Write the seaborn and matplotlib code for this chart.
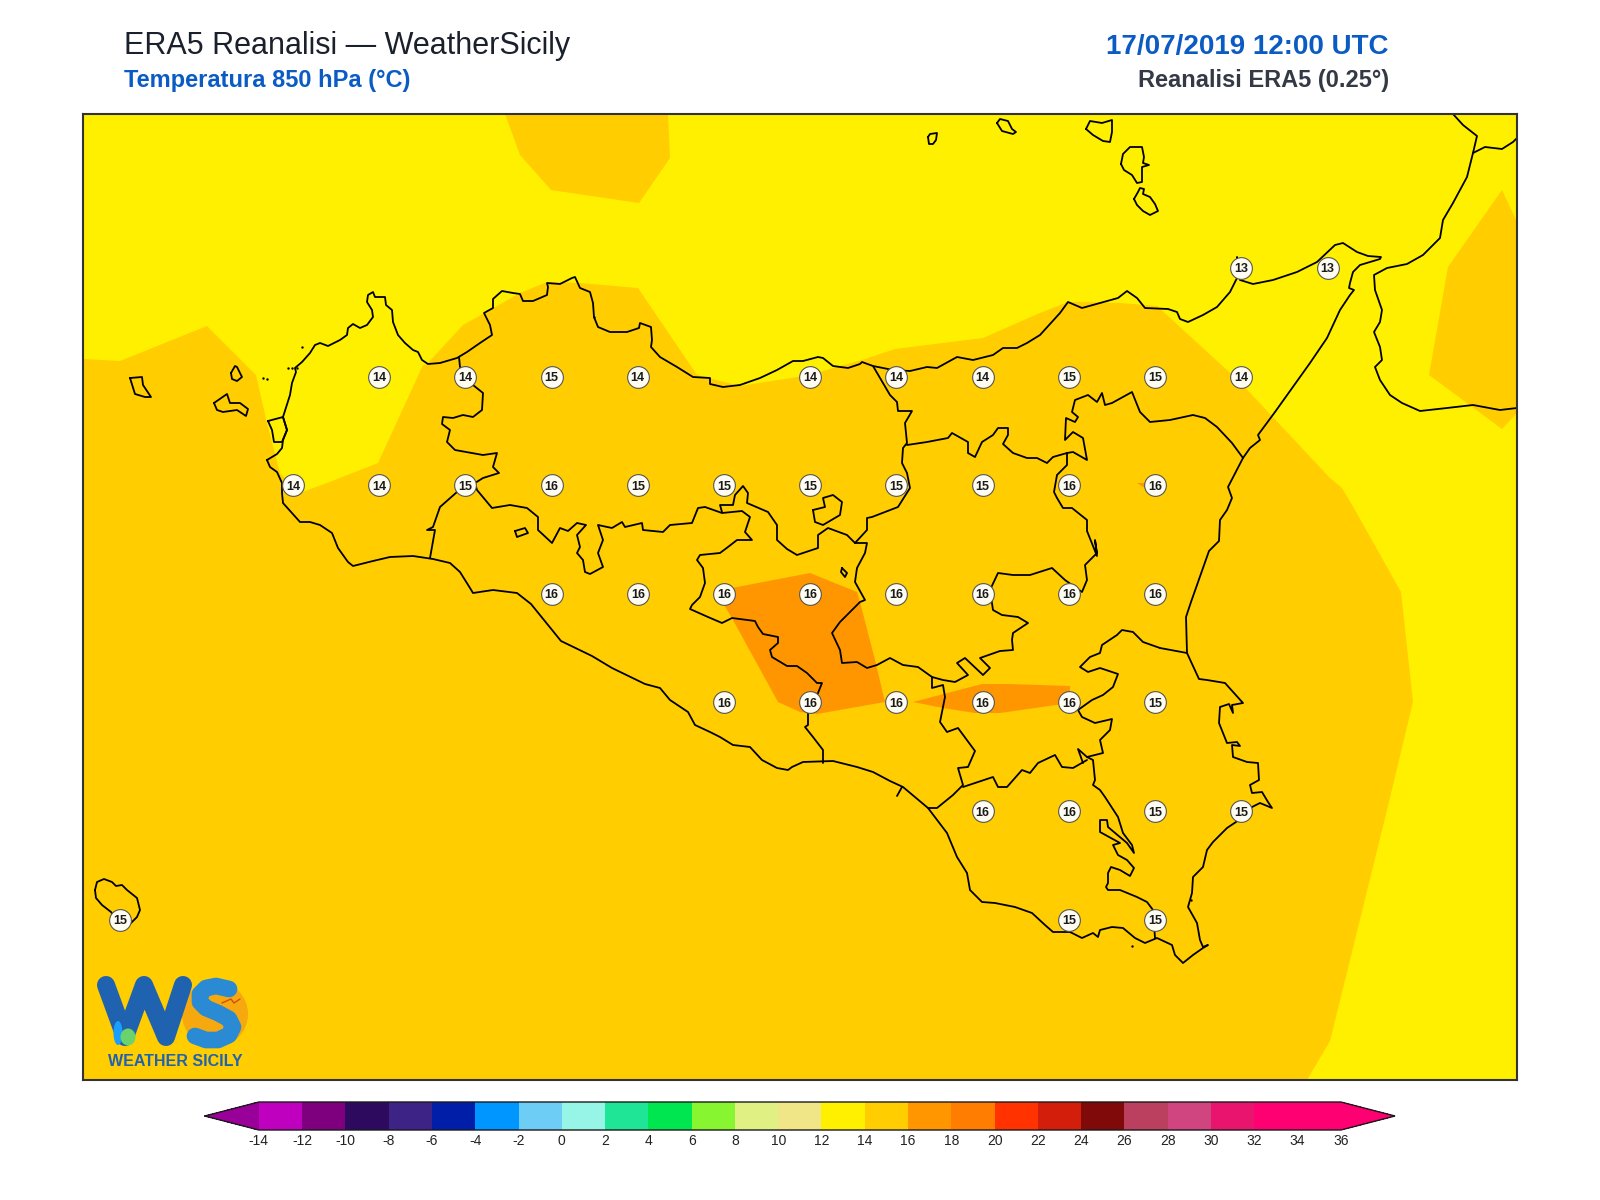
import matplotlib
matplotlib.use("Agg")
import matplotlib.pyplot as plt
from matplotlib.colors import BoundaryNorm, ListedColormap
from matplotlib.colorbar import ColorbarBase
from matplotlib.patches import Ellipse
import pandas as pd
import seaborn as sns

# colour scale
levels = list(range(-14, 38, 2))
level_colors = ["#bf00bf", "#7f007f", "#2e0a5e", "#3c2385", "#001ea8", "#0096ff", "#6dcdf5", "#96f5e6",
	"#1ee696", "#00e650", "#87f530", "#e1f082", "#f0e687", "#fff000", "#ffcd00", "#ff9600",
	"#ff7d00", "#ff3200", "#d21e0a", "#800a0a", "#bb4060", "#d04580", "#e8146e", "#ff0073", "#ff0073"]
color_under = "#990099"
color_over = "#ff0073"

# temperature values printed on the grid
station_lon = [15.25, 15.5,
	12.75, 13.0, 13.25, 13.5, 14.0, 14.25, 14.5, 14.75, 15.0, 15.25,
	12.5, 12.75, 13.0, 13.25, 13.5, 13.75, 14.0, 14.25, 14.5, 14.75, 15.0,
	13.25, 13.5, 13.75, 14.0, 14.25, 14.5, 14.75, 15.0,
	13.75, 14.0, 14.25, 14.5, 14.75, 15.0,
	14.5, 14.75, 15.0, 15.25,
	12.0, 14.75, 15.0]
station_lat = [38.25, 38.25,
	38.0, 38.0, 38.0, 38.0, 38.0, 38.0, 38.0, 38.0, 38.0, 38.0,
	37.75, 37.75, 37.75, 37.75, 37.75, 37.75, 37.75, 37.75, 37.75, 37.75, 37.75,
	37.5, 37.5, 37.5, 37.5, 37.5, 37.5, 37.5, 37.5,
	37.25, 37.25, 37.25, 37.25, 37.25, 37.25,
	37.0, 37.0, 37.0, 37.0,
	36.75, 36.75, 36.75]
station_val = [13, 13,
	14, 14, 15, 14, 14, 14, 14, 15, 15, 14,
	14, 14, 15, 16, 15, 15, 15, 15, 15, 16, 16,
	16, 16, 16, 16, 16, 16, 16, 16,
	16, 16, 16, 16, 16, 15,
	16, 16, 15, 15,
	15, 15, 15]

band_14_16 = [(83, 359), (120, 361), (207, 326), (256, 375), (267, 423), (280, 473), (300, 493), (327, 483),
	(378, 463), (423, 365), (427, 364), (463, 325), (490, 310), (520, 293), (547, 282), (580, 283), (638, 288),
	(697, 375), (740, 386), (810, 375), (833, 368), (862, 360), (895, 349), (983, 338), (1040, 313), (1068, 302),
	(1080, 302), (1120, 303), (1157, 306), (1240, 382), (1330, 478), (1342, 488), (1355, 510), (1401, 592),
	(1413, 702), (1388, 806), (1330, 1041), (1307, 1080), (83, 1080)]
band_top = [(505, 114), (520, 155), (551, 190), (639, 203), (670, 158), (668, 114)]
band_right = [(1502, 190), (1517, 222), (1517, 413), (1502, 429), (1429, 375), (1448, 267)]
band_16_18_a = [(732, 588), (810, 573), (857, 592), (860, 602), (875, 660), (885, 702), (817, 714), (800, 712),
	(778, 702), (733, 620), (723, 603)]
band_16_18_b = [(913, 702), (982, 684), (1008, 684), (1070, 686), (1070, 703), (1000, 713), (975, 713), (943, 708)]
band_16_18_c = [(1137, 483), (1145, 483), (1145, 488)]

sicily_coast = [(267, 460), (277, 454), (282, 448), (283, 440), (287, 430), (283, 417), (290, 395), (292, 383),
	(296, 372), (295, 368), (302, 362), (310, 353), (315, 345), (320, 343), (328, 346), (340, 340), (347, 335),
	(348, 328), (353, 324), (360, 328), (367, 325), (373, 317), (372, 310), (367, 302), (368, 295), (373, 292),
	(375, 297), (385, 297), (386, 305), (392, 310), (393, 322), (398, 335), (405, 343), (413, 350), (418, 352),
	(422, 360), (428, 364), (440, 363), (457, 358), (467, 352), (480, 343), (492, 335), (490, 325), (484, 313),
	(493, 308), (493, 299), (502, 291), (513, 293), (520, 294), (523, 301), (533, 301), (547, 295), (548, 287),
	(547, 283), (560, 284), (572, 278), (575, 277), (580, 288), (590, 292), (593, 303), (594, 317), (598, 327),
	(610, 332), (627, 332), (639, 328), (640, 323), (651, 327), (652, 340), (651, 347), (660, 357), (677, 367),
	(693, 377), (710, 378), (710, 384), (723, 387), (740, 385), (760, 378), (777, 370), (793, 361), (803, 361),
	(818, 357), (823, 358), (833, 366), (848, 368), (860, 364), (862, 362), (873, 366), (893, 370), (910, 371),
	(927, 367), (937, 368), (957, 357), (973, 360), (993, 355), (1003, 348), (1017, 348), (1027, 343), (1040, 335),
	(1060, 313), (1068, 302), (1082, 308), (1107, 301), (1118, 298), (1127, 291), (1137, 298), (1145, 308),
	(1168, 309), (1177, 312), (1180, 319), (1188, 322), (1203, 315), (1217, 307), (1230, 292), (1237, 278),
	(1238, 267), (1237, 257), (1240, 280), (1253, 284), (1273, 280), (1297, 272), (1317, 262), (1335, 245),
	(1343, 243), (1357, 252), (1368, 256), (1381, 257), (1380, 259), (1360, 265), (1353, 272), (1350, 283),
	(1349, 288), (1354, 290), (1350, 295), (1340, 310), (1327, 338), (1310, 363), (1275, 412), (1258, 435),
	(1260, 440), (1250, 448), (1243, 458), (1228, 487), (1232, 498), (1227, 510), (1220, 520), (1219, 541),
	(1209, 551), (1191, 602), (1186, 617), (1187, 653), (1199, 679), (1207, 680), (1225, 683), (1243, 703),
	(1232, 705), (1233, 713), (1229, 704), (1220, 707), (1219, 723), (1227, 743), (1237, 742), (1240, 746),
	(1232, 745), (1233, 757), (1247, 762), (1258, 763), (1259, 780), (1250, 785), (1252, 793), (1262, 792),
	(1268, 802), (1272, 808), (1260, 803), (1252, 807), (1242, 818), (1227, 828), (1213, 842), (1207, 850),
	(1203, 867), (1193, 877), (1192, 893), (1188, 907), (1197, 923), (1200, 940), (1203, 947), (1208, 945),
	(1203, 948), (1193, 955), (1183, 963), (1175, 955), (1172, 945), (1157, 938), (1145, 943), (1135, 938),
	(1123, 928), (1112, 927), (1100, 930), (1098, 937), (1093, 933), (1082, 938), (1070, 932), (1053, 932),
	(1045, 925), (1032, 913), (1015, 907), (995, 903), (982, 902), (970, 890), (967, 873), (957, 857), (947, 833),
	(928, 808), (903, 787), (890, 781), (873, 772), (857, 767), (833, 761), (803, 762), (792, 767), (788, 770),
	(777, 768), (762, 760), (750, 747), (733, 745), (720, 737), (710, 732), (695, 725), (688, 712), (670, 700),
	(660, 688), (645, 684), (612, 668), (592, 656), (561, 641), (531, 604), (517, 593), (493, 590), (473, 593),
	(470, 588), (460, 572), (450, 563), (433, 559), (413, 556), (390, 557), (373, 561), (353, 566), (348, 562),
	(338, 548), (332, 533), (320, 525), (310, 522), (300, 522), (292, 513), (283, 503), (282, 493), (282, 483),
	(277, 472), (270, 467), (267, 460)]
stagnone = [(268, 421), (283, 417), (287, 430), (282, 442), (274, 442), (272, 430), (268, 421)]
calabria = [(1453, 114), (1463, 125), (1477, 136), (1473, 153), (1467, 177), (1453, 203), (1443, 220), (1440, 238),
	(1423, 255), (1407, 264), (1387, 268), (1374, 275), (1375, 290), (1382, 310), (1380, 322), (1374, 332),
	(1380, 347), (1382, 360), (1375, 367), (1380, 380), (1390, 395), (1402, 403), (1420, 411), (1447, 408),
	(1473, 405), (1500, 410), (1517, 408)]
calabria_border = [(1473, 153), (1485, 147), (1502, 149), (1513, 142), (1517, 138)]
islands = [
	[(231, 373), (235, 366), (237, 367), (242, 377), (237, 381), (232, 379), (231, 373)],
	[(130, 378), (142, 377), (143, 385), (151, 397), (145, 397), (135, 394), (130, 378)],
	[(214, 403), (227, 394), (230, 403), (240, 403), (248, 409), (246, 416), (237, 410), (223, 412), (217, 410), (214, 403)],
	[(95, 890), (97, 882), (104, 879), (112, 882), (116, 886), (122, 885), (127, 890), (137, 898), (140, 910),
		(137, 917), (131, 923), (119, 922), (111, 912), (102, 905), (96, 898), (95, 890)],
	[(928, 137), (930, 134), (937, 133), (936, 140), (933, 144), (929, 144), (928, 137)],
	[(997, 123), (1000, 119), (1008, 121), (1012, 129), (1016, 132), (1013, 134), (1002, 131), (997, 123)],
	[(1086, 129), (1090, 121), (1102, 123), (1112, 120), (1112, 132), (1110, 142), (1103, 141), (1093, 135), (1086, 129)],
	[(1121, 164), (1123, 154), (1130, 147), (1142, 147), (1144, 157), (1143, 163), (1149, 165), (1142, 167),
		(1142, 182), (1137, 183), (1132, 175), (1124, 170), (1121, 164)],
	[(1134, 199), (1138, 192), (1140, 188), (1144, 189), (1143, 194), (1150, 197), (1155, 204), (1158, 211),
		(1150, 215), (1143, 211), (1137, 205), (1134, 199)],
]
islets = [(302, 347), (263, 378), (267, 379), (288, 368), (292, 368), (297, 368), (594, 317), (1132, 946), (1191, 900)]
borders = [
	[(459, 357), (460, 367), (467, 375), (473, 385), (483, 393), (482, 410), (473, 417), (463, 415), (453, 418),
		(443, 417), (442, 424), (450, 430), (447, 442), (455, 450), (483, 455), (497, 453), (493, 467), (499, 473),
		(483, 478), (475, 483)],
	[(475, 483), (457, 492), (440, 507), (433, 527), (427, 530), (435, 530), (430, 558)],
	[(475, 483), (477, 490), (492, 508), (510, 505), (527, 508), (538, 517), (538, 530), (552, 543), (560, 528),
		(568, 531), (577, 523), (586, 525), (577, 535), (580, 547), (577, 553), (583, 560), (585, 572), (590, 574),
		(603, 567), (598, 553), (603, 540), (598, 525), (612, 528), (622, 522), (625, 527), (642, 523), (643, 530),
		(663, 532), (670, 525), (692, 523), (698, 508), (705, 507), (722, 513), (742, 511), (750, 517), (745, 532),
		(752, 540), (737, 540), (728, 547), (720, 553), (700, 555), (697, 560), (703, 568), (705, 583), (700, 597),
		(692, 605), (690, 609), (708, 617), (722, 623), (732, 618), (755, 621), (758, 627), (763, 634), (778, 637),
		(778, 643), (770, 650), (772, 657), (787, 666), (797, 666), (807, 673), (817, 683), (822, 683), (818, 693),
		(808, 713), (808, 725), (805, 727), (813, 737), (823, 750), (823, 763)],
	[(722, 512), (720, 505), (733, 505), (735, 495), (743, 486), (748, 493), (747, 503), (768, 512), (777, 525),
		(777, 540), (787, 549), (797, 555), (818, 548), (818, 535), (828, 528), (847, 535), (855, 543), (867, 543),
		(865, 553), (857, 568), (855, 582), (865, 600), (860, 602), (840, 622), (832, 633), (840, 650), (842, 663),
		(857, 662), (867, 668), (877, 665), (890, 658), (903, 665), (918, 667), (932, 677), (943, 680), (955, 682),
		(968, 675), (957, 663), (965, 658), (983, 675), (990, 668), (980, 658), (1000, 651), (1013, 650), (1012, 640),
		(1013, 633), (1028, 623), (1018, 617), (1002, 615), (993, 610), (990, 590), (998, 573), (1013, 575),
		(1030, 575), (1052, 568), (1065, 580), (1082, 592), (1087, 580), (1085, 565), (1097, 553), (1095, 540),
		(1097, 556), (1087, 531), (1087, 520), (1072, 508), (1063, 508), (1057, 498), (1054, 492), (1057, 475),
		(1067, 465), (1067, 453), (1073, 452), (1087, 460), (1083, 438), (1073, 432), (1065, 440), (1066, 418),
		(1075, 422), (1078, 417), (1072, 412), (1075, 400), (1088, 395), (1097, 402), (1102, 393), (1105, 405),
		(1112, 403), (1132, 392), (1140, 412), (1150, 422), (1170, 420), (1193, 415), (1205, 418), (1217, 427),
		(1232, 443), (1243, 458)],
	[(855, 543), (867, 530), (867, 518), (872, 517), (898, 507), (910, 488), (907, 473), (902, 463), (903, 448),
		(907, 443), (905, 423), (912, 411), (898, 411), (897, 402), (890, 395), (873, 366)],
	[(907, 445), (927, 442), (948, 438), (952, 433), (968, 442), (968, 453), (975, 457), (982, 442), (993, 435),
		(998, 428), (1008, 428), (1008, 435), (1003, 444), (1013, 453), (1027, 458), (1037, 458), (1047, 463),
		(1053, 457), (1067, 453)],
	[(813, 510), (825, 507), (823, 498), (833, 495), (842, 502), (840, 515), (823, 525), (815, 522), (813, 510)],
	[(515, 531), (525, 528), (528, 533), (517, 537), (515, 531)],
	[(842, 568), (847, 573), (845, 577), (841, 572), (842, 568)],
	[(932, 677), (932, 688), (943, 685), (945, 697), (940, 722), (947, 732), (958, 728), (975, 751), (968, 767),
		(958, 768), (963, 785), (953, 795), (937, 808), (928, 808)],
	[(963, 787), (993, 777), (998, 787), (1007, 787), (1022, 770), (1030, 773), (1038, 763), (1055, 755), (1062, 767),
		(1073, 768), (1087, 760)],
	[(1160, 648), (1143, 642), (1133, 632), (1122, 630), (1117, 635), (1102, 645), (1100, 653), (1090, 657),
		(1080, 667), (1088, 672), (1100, 668), (1118, 674), (1113, 687), (1103, 695), (1092, 700), (1078, 710),
		(1082, 717), (1095, 723), (1112, 719), (1110, 730), (1100, 740), (1103, 753), (1087, 757), (1078, 749),
		(1083, 763)],
	[(1160, 648), (1187, 653)],
	[(1087, 757), (1093, 760), (1095, 780), (1093, 785), (1100, 790), (1105, 797), (1118, 817), (1123, 833),
		(1132, 845), (1134, 853), (1127, 843), (1108, 827), (1107, 820), (1100, 820), (1100, 832), (1120, 843),
		(1113, 845), (1118, 855), (1127, 860), (1134, 868), (1130, 876), (1120, 870), (1111, 867), (1108, 873),
		(1108, 883), (1106, 887), (1108, 890), (1120, 890), (1137, 897), (1147, 902), (1153, 910), (1155, 938)],
	[(902, 787), (897, 796)],
]
logo_w = [(106, 985), (125, 1037), (144, 985), (166, 1037), (183, 985)]
logo_s = [(229, 989), (216, 986), (206, 988), (200, 994), (200, 1002), (206, 1008), (218, 1013), (229, 1019),
	(233, 1027), (229, 1035), (218, 1040), (206, 1040), (195, 1036)]
logo_bird = [(222, 1003), (231, 999), (234, 1003), (240, 999)]


def to_lon(px):
	return 12.0 + (px - 120.4) / 344.9


def to_lat(py):
	return 38.0 - (py - 376.5) / 434.5


def unpack(points):
	return [to_lon(p[0]) for p in points], [to_lat(p[1]) for p in points]


def main():
	sns.set_theme(style="white")
	plt.rcParams['font.family'] = ['Liberation Sans', 'DejaVu Sans']
	plt.rcParams['axes.unicode_minus'] = False

	fig = plt.figure(figsize=(16, 12), dpi=100)
	ax = fig.add_axes([83 / 1600, 1 - 1080 / 1200, 1434 / 1600, 966 / 1200])
	ax.set_facecolor(level_colors[13])
	ax.set_xlim(to_lon(83), to_lon(1517))
	ax.set_ylim(to_lat(1080), to_lat(114))
	ax.set_xticks([])
	ax.set_yticks([])
	for spine in ax.spines.values():
		spine.set_linewidth(1.5)
		spine.set_color("#333333")

	for band in [band_14_16, band_top, band_right]:
		xs, ys = unpack(band)
		ax.fill(xs, ys, color=level_colors[14], lw=0, zorder=1)
	for band in [band_16_18_a, band_16_18_b, band_16_18_c]:
		xs, ys = unpack(band)
		ax.fill(xs, ys, color=level_colors[15], lw=0, zorder=1)

	for shape in [sicily_coast, stagnone, calabria, calabria_border] + islands + borders:
		xs, ys = unpack(shape)
		ax.plot(xs, ys, color="black", lw=1.3, zorder=2, solid_joinstyle="round")
	xs, ys = unpack(islets)
	ax.scatter(xs, ys, s=3, color="black", lw=0, zorder=2)

	stations = pd.DataFrame({"lon": station_lon, "lat": station_lat, "val": station_val})
	sns.scatterplot(data=stations, x="lon", y="lat", s=245, color="#fffdf2", edgecolor="#555555", linewidth=0.8,
		zorder=3, ax=ax, legend=False)
	for lon, lat, val in zip(station_lon, station_lat, station_val):
		ax.text(lon, lat, str(val), ha="center", va="center_baseline", fontsize=9, fontweight="bold",
			color="#1a1a1a", zorder=4)
	ax.set_xlabel("")
	ax.set_ylabel("")

	# logo
	ax.add_patch(Ellipse((to_lon(215), to_lat(1014)), 66 / 344.9, 66 / 434.5, color="#f5a90f", lw=0, zorder=5))
	xs, ys = unpack(logo_w)
	ax.plot(xs, ys, color="#1f62b0", lw=13, zorder=6, solid_capstyle="round", solid_joinstyle="round")
	xs, ys = unpack(logo_s)
	ax.plot(xs, ys, color="#2a8ad4", lw=12, zorder=6, solid_capstyle="round", solid_joinstyle="round")
	xs, ys = unpack(logo_bird)
	ax.plot(xs, ys, color="#d84b10", lw=1, zorder=7)
	ax.add_patch(Ellipse((to_lon(118), to_lat(1033)), 9 / 344.9, 24 / 434.5, color="#1a9fff", lw=0, zorder=7))
	ax.add_patch(Ellipse((to_lon(128), to_lat(1037)), 15 / 344.9, 17 / 434.5, color="#6bd36b", lw=0, zorder=7))
	ax.text(to_lon(108), to_lat(1066), "WEATHER SICILY", fontsize=11.5, fontweight="bold", color="#1f62b0", zorder=6)

	fig.text(124 / 1600, 1 - 54 / 1200, "ERA5 Reanalisi \u2014 WeatherSicily", fontsize=22, color="#1a202c")
	fig.text(124 / 1600, 1 - 87 / 1200, "Temperatura 850 hPa (\u00b0C)", fontsize=17, fontweight="bold", color="#0a5bc4")
	fig.text(1389 / 1600, 1 - 54 / 1200, "17/07/2019 12:00 UTC", fontsize=20, fontweight="bold", color="#0a5bc4", ha="right")
	fig.text(1389 / 1600, 1 - 87 / 1200, "Reanalisi ERA5 (0.25\u00b0)", fontsize=17, fontweight="bold", color="#333a45", ha="right")

	cax = fig.add_axes([204.7 / 1600, 1 - 1130 / 1200, 1190.3 / 1600, 28 / 1200])
	cmap = ListedColormap(level_colors)
	cmap.set_under(color_under)
	cmap.set_over(color_over)
	norm = BoundaryNorm(levels, cmap.N)
	cbar = ColorbarBase(cax, cmap=cmap, norm=norm, orientation="horizontal", extend="both", extendfrac=0.05,
		ticks=levels, spacing="proportional")
	cbar.outline.set_linewidth(1.0)
	cbar.outline.set_edgecolor("#1a1a1a")
	cbar.ax.tick_params(length=0, pad=3, labelsize=10, labelcolor="#222222")
	cbar.ax.minorticks_off()

	fig.savefig("out.png", dpi=100)


if __name__ == "__main__":
	main()
